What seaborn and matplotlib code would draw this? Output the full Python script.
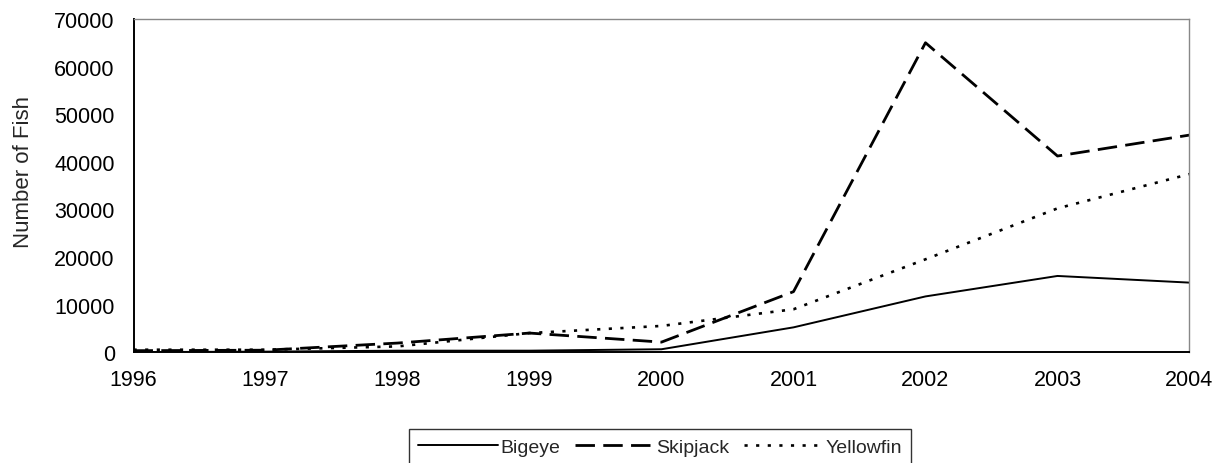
import numpy as np
import pandas as pd
import matplotlib
matplotlib.use("Agg")
import matplotlib.pyplot as plt
import seaborn as sns

years     = [1996, 1997, 1998, 1999, 2000, 2001, 2002, 2003, 2004]
bigeye    = [0, 100, 300, 300, 600, 5200, 11700, 16000, 14600]
skipjack  = [300, 400, 1900, 4000, 2100, 12700, 65000, 41200, 45600]
yellowfin = [500, 500, 1200, 4000, 5500, 9000, 19500, 30200, 37400]
species   = ["Bigeye", "Skipjack", "Yellowfin"]

df = pd.DataFrame({
    "Year": years * 3,
    "Fish": bigeye + skipjack + yellowfin,
    "Species": [s for s in species for _ in years],
})

sns.set_style("white")
plt.rcParams["font.family"] = ["Liberation Sans", "DejaVu Sans"]

fig = plt.figure(figsize=(12.25, 4.64), dpi=100)
ax = fig.add_axes([0.109, 0.239, 0.862, 0.718])

dashes = {"Bigeye": "", "Skipjack": (7, 3), "Yellowfin": (1.2, 3.2)}
widths = {"Bigeye": 1.4, "Skipjack": 2.0, "Yellowfin": 1.9}
sns.lineplot(data=df, x="Year", y="Fish", style="Species", dashes=dashes,
             color="black", ax=ax, legend=False)
for line, s in zip(ax.get_lines(), species):
    line.set_linewidth(widths[s])

ax.set_xlim(1996, 2004)
ax.set_ylim(0, 70000)
ax.set_xticks(years)
ax.set_yticks(np.arange(0, 70001, 10000))
ax.tick_params(axis="both", direction="inout", length=9, width=1.2,
               labelsize=15.5, colors="black")
ax.tick_params(axis="x", pad=8)
ax.tick_params(axis="y", pad=9)
ax.set_xlabel("")
ax.set_ylabel("Number of Fish", fontsize=16)
ax.yaxis.set_label_coords(-0.094, 0.544)

for side in ["left", "bottom"]:
    ax.spines[side].set_color("black")
    ax.spines[side].set_linewidth(1.4)
for side in ["top", "right"]:
    ax.spines[side].set_color("#888888")
    ax.spines[side].set_linewidth(1.0)

# legend sits low, its bottom edge runs off the image like the original
handles = [plt.Line2D([], [], color="black", lw=widths[s],
                      dashes=dashes[s] if dashes[s] else (None, None))
           for s in species]
leg = fig.legend(handles, species, loc="upper center", ncol=3,
                 bbox_to_anchor=(0.539, 0.0733), frameon=True, fancybox=False,
                 edgecolor="black", fontsize=14, handlelength=4.1,
                 handletextpad=0.1, columnspacing=0.75, borderpad=0.48,
                 borderaxespad=0)
leg.get_frame().set_linewidth(1.0)

fig.savefig("out.png", dpi=100)
